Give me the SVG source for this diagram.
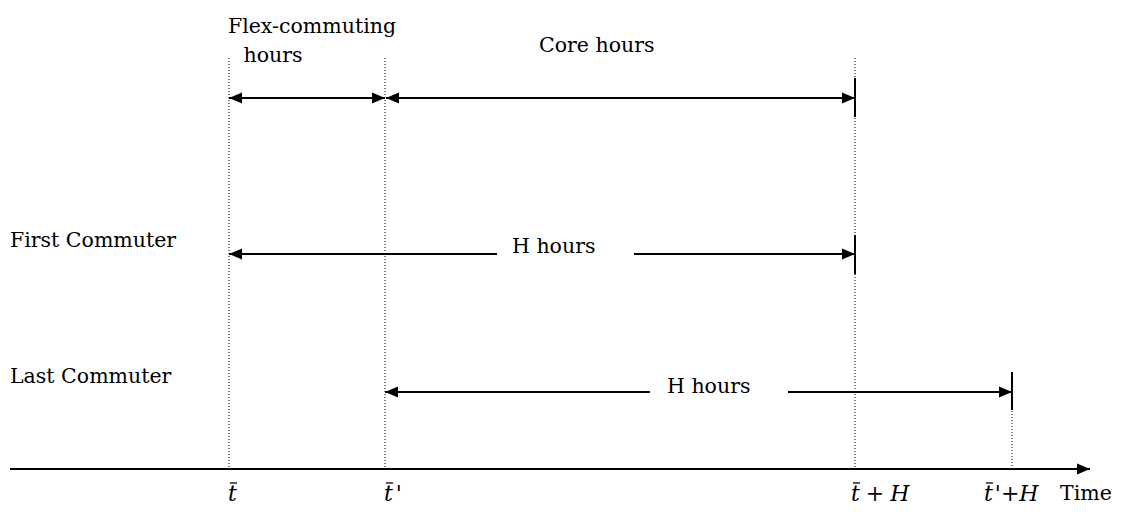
<svg xmlns="http://www.w3.org/2000/svg" width="1125" height="512" viewBox="0 0 1125 512" font-family="DejaVu Serif, Noto Serif, serif" font-size="20.5">
<style>
text{fill:#000}
.m{font-style:italic;font-size:22px}
.dot{stroke:#000;stroke-width:1;stroke-dasharray:1,2;fill:none}
.ln{stroke:#000;stroke-width:2;fill:none}
.tick{stroke:#000;stroke-width:2}
.bar{stroke:#000;stroke-width:1.3}
</style>
<defs>
<marker id="ah" markerUnits="userSpaceOnUse" markerWidth="14" markerHeight="12" refX="13" refY="6" orient="auto-start-reverse">
<path d="M0,0.5 L13,6 L0,11.5 z" fill="#000"/>
</marker>
</defs>
<rect width="1125" height="512" fill="#fff"/>
<g id="guides">
<line class="dot" x1="229" y1="58" x2="229" y2="469"/>
<line class="dot" x1="385" y1="58" x2="385" y2="469"/>
<line class="dot" x1="855" y1="58" x2="855" y2="469"/>
<line class="dot" x1="1012" y1="372" x2="1012" y2="469"/>
</g>
<g id="connectors">
<line class="ln" x1="229" y1="98" x2="385" y2="98" marker-start="url(#ah)" marker-end="url(#ah)"/>
<line class="ln" x1="386" y1="98" x2="855" y2="98" marker-start="url(#ah)" marker-end="url(#ah)"/>
<line class="ln" x1="229" y1="254" x2="497" y2="254" marker-start="url(#ah)"/>
<line class="ln" x1="634" y1="254" x2="855" y2="254" marker-end="url(#ah)"/>
<line class="ln" x1="385" y1="392" x2="650" y2="392" marker-start="url(#ah)"/>
<line class="ln" x1="788" y1="392" x2="1012" y2="392" marker-end="url(#ah)"/>
<line class="ln" x1="10" y1="469" x2="1090" y2="469" marker-end="url(#ah)"/>
<line class="tick" x1="855" y1="78" x2="855" y2="117"/>
<line class="tick" x1="855" y1="235" x2="855" y2="274"/>
<line class="tick" x1="1012" y1="372" x2="1012" y2="410"/>
</g>
<g id="labels">
<text x="312" y="33" text-anchor="middle">Flex-commuting</text>
<text x="273" y="62" text-anchor="middle">hours</text>
<text x="539" y="52">Core hours</text>
<text x="10" y="247">First Commuter</text>
<text x="10" y="383">Last Commuter</text>
<text x="512" y="253">H hours</text>
<text x="667" y="393">H hours</text>
</g>
<g id="axis-labels">
<text class="m" x="228" y="501">t</text>
<line class="bar" x1="230" y1="483" x2="237" y2="483"/>
<text class="m" x="384" y="501">t<tspan font-style="normal" dx="3">'</tspan></text>
<line class="bar" x1="386" y1="483" x2="393" y2="483"/>
<text class="m" x="851" y="501">t<tspan font-style="normal" dx="6">+</tspan><tspan dx="6">H</tspan></text>
<line class="bar" x1="853" y1="483" x2="860" y2="483"/>
<text class="m" x="984" y="501">t<tspan font-style="normal" dx="2">'+</tspan><tspan>H</tspan></text>
<line class="bar" x1="986" y1="483" x2="993" y2="483"/>
<text x="1060" y="500">Time</text>
</g>
</svg>
